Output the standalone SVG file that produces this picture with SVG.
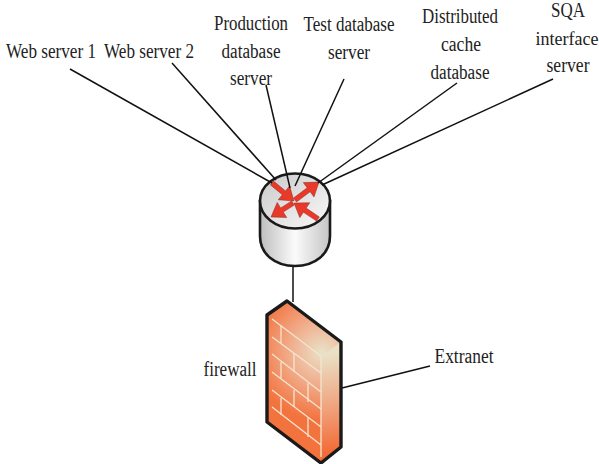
<svg xmlns="http://www.w3.org/2000/svg" width="599" height="464" viewBox="0 0 599 464">
<style>
text{font-family:"Liberation Serif","Times New Roman",serif;font-size:20px;fill:#222;text-anchor:middle}
.c{fill:none;stroke:#111;stroke-width:1.5}
.a{fill:#e8392a;stroke:#7a1a10;stroke-width:.4}
.b{fill:none;stroke:#f3e6d0;stroke-width:1.3}
.o{fill:none;stroke:#1a1a1a;stroke-width:3.4;stroke-linejoin:round}
</style>
<defs>
<linearGradient id="side" x1="0" x2="1" y1="0" y2="0"><stop offset="0" stop-color="#bdbdbd"/><stop offset=".5" stop-color="#fbfbfb"/><stop offset="1" stop-color="#c4c4c4"/></linearGradient>
<linearGradient id="top" x1="0" x2="1" y1="0" y2="1"><stop offset="0" stop-color="#c9c9c9"/><stop offset="1" stop-color="#fafafa"/></linearGradient>
<radialGradient id="wall" gradientUnits="userSpaceOnUse" cx="322" cy="352" r="68"><stop offset="0" stop-color="#e9e2c8"/><stop offset=".4" stop-color="#f0b596"/><stop offset="1" stop-color="#f3733f"/></radialGradient>
<linearGradient id="wall2" gradientUnits="userSpaceOnUse" x1="322" y1="356" x2="340" y2="450"><stop offset="0" stop-color="#e9e0c6"/><stop offset=".55" stop-color="#f0a27c"/><stop offset="1" stop-color="#f26c38"/></linearGradient>
</defs>
<g id="router">
<path d="M260 201V236C260 254 275 266 295 266C315 266 330 254 330 236V201Z" fill="url(#side)" stroke="#1a1a1a" stroke-width="2.6"/>
<ellipse cx="295" cy="201" rx="35" ry="27.500" fill="url(#top)" stroke="#1a1a1a" stroke-width="2.600"/>
<path class="a" d="M270.400 184.900L282.300 194.700L278.200 199.800L294 201L289.600 185.800L285.500 190.900L273.600 181.100Z"/>
<path class="a" d="M293.500 198L307.100 187.800L303.200 182.600L319 182L314 197L310.100 191.800L296.500 202Z"/>
<path class="a" d="M291.700 200.900L280.700 207.900L277.200 202.400L271 217L286.800 217.600L283.300 212.100L294.300 205.100Z"/>
<path class="a" d="M319.400 216.900L306.200 208.100L309.800 202.700L294 203L299.800 217.700L303.400 212.300L316.600 221.100Z"/>
</g>
<g id="connectors">
<path class="c" d="M70 69L272 183"/>
<path class="c" d="M172 63L276 180"/>
<path class="c" d="M266 85L290 188"/>
<path class="c" d="M344 79L295 186"/>
<path class="c" d="M457 83L318 183"/>
<path class="c" d="M553 79L322 185"/>
<path class="c" d="M293 267V302"/>
<path class="c" d="M342 388L430 366"/>
</g>
<g id="firewall">
<path d="M267 315L287 301L341 342V447L321 463L267 422Z" fill="url(#wall)"/>
<path d="M321 356L341 342V447L321 463Z" fill="url(#wall2)"/>
<path class="b" d="M272 319L321 356V457M272 337L321 373M272 354L321 392M272 372L321 409M272 390L321 427M272 407L321 445"/>
<path class="b" d="M281 326V343M294 353V372M281 362V378M308 383V402M294 390V407M281 398V415M308 418V437"/>
<path class="o" d="M267 315L287 301L341 342V447L321 463L267 422Z"/>
</g>
<g id="labels">
<text x="51" y="58" textLength="90" lengthAdjust="spacingAndGlyphs">Web server 1</text>
<text x="149" y="58" textLength="90" lengthAdjust="spacingAndGlyphs">Web server 2</text>
<text x="251" y="30" textLength="74" lengthAdjust="spacingAndGlyphs">Production</text>
<text x="251" y="58" textLength="59" lengthAdjust="spacingAndGlyphs">database</text>
<text x="251" y="85" textLength="42" lengthAdjust="spacingAndGlyphs">server</text>
<text x="349" y="31" textLength="91" lengthAdjust="spacingAndGlyphs">Test database</text>
<text x="349" y="59" textLength="42" lengthAdjust="spacingAndGlyphs">server</text>
<text x="460" y="23" textLength="76" lengthAdjust="spacingAndGlyphs">Distributed</text>
<text x="461" y="51" textLength="40" lengthAdjust="spacingAndGlyphs">cache</text>
<text x="460" y="79" textLength="59" lengthAdjust="spacingAndGlyphs">database</text>
<text x="568" y="17" textLength="34" lengthAdjust="spacingAndGlyphs">SQA</text>
<text x="567" y="45" style="font-size:18px">interface</text>
<text x="568" y="72" textLength="43" lengthAdjust="spacingAndGlyphs">server</text>
<text x="230" y="376" textLength="53" lengthAdjust="spacingAndGlyphs">firewall</text>
<text x="464" y="363" textLength="59" lengthAdjust="spacingAndGlyphs">Extranet</text>
</g>
</svg>
